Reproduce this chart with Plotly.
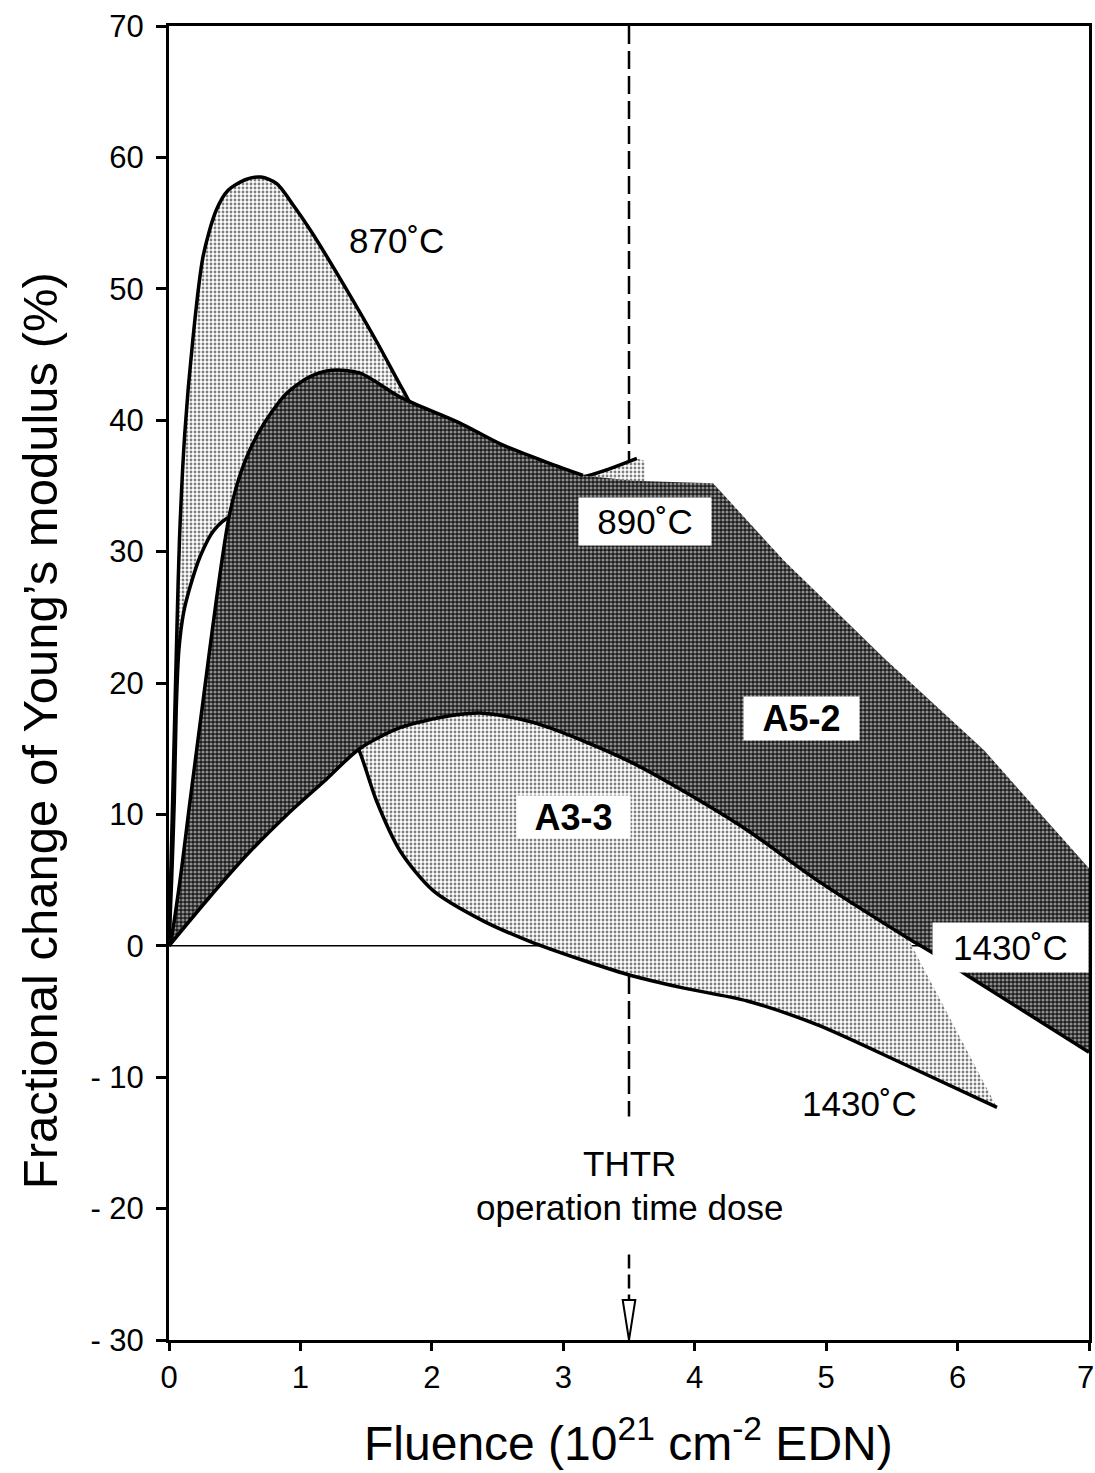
import plotly.graph_objects as go

# ---------------- data ----------------
x_range = [0, 7]
y_range = [-30, 70]
x_tickvals = [0, 1, 2, 3, 4, 5, 6, 7]
x_ticktext = ["0", "1", "2", "3", "4", "5", "6", "7"]
y_tickvals = [-30, -20, -10, 0, 10, 20, 30, 40, 50, 60, 70]
y_ticktext = ["- 30", "- 20", "- 10", "0", "10", "20", "30", "40", "50", "60", "70"]

thtr_dose = 3.5          # THTR operation time dose (fluence)

# A3-3 upper bound: 870 C
a33_hi_x = [0, 0.02, 0.04, 0.06, 0.08, 0.12, 0.18, 0.26, 0.36, 0.45, 0.58, 0.70, 0.82,
            0.95, 1.08, 1.33, 1.59, 1.78, 1.90, 2.10, 2.50, 2.90, 3.15, 3.35, 3.56]
a33_hi_y = [0, 8, 16, 24, 31, 39, 46, 52.5, 56.0, 57.5, 58.3, 58.5, 58.0,
            56.3, 54.4, 50.3, 45.8, 42.3, 40.3, 39.0, 37.0, 35.6, 35.7, 36.3, 37.1]
# A3-3 band right-hand boundary (stipple edge)
a33_edge_x = [3.62, 3.62, 4.50, 5.30, 5.62]
a33_edge_y = [36.9, 35.2, 20.0, 5.0, 0.6]
# A3-3 lower bound: 1430 C
a33_lo_x = [0, 0.02, 0.04, 0.055, 0.075, 0.11, 0.16, 0.24, 0.34, 0.46, 0.60, 0.80, 1.00,
            1.20, 1.45, 1.58, 1.76, 2.01, 2.39, 2.73, 3.15, 3.53, 3.91, 4.40, 4.93, 5.57, 6.30]
a33_lo_y = [0, 5, 11, 18, 22.5, 25.3, 27.3, 29.7, 31.6, 32.6, 32.3, 29.5, 25.5,
            20.5, 14.8, 11.0, 7.2, 4.2, 1.9, 0.4, -1.1, -2.3, -3.2, -4.2, -6.0, -8.9, -12.3]

# A5-2 upper bound: 890 C
a52_hi_x = [0, 0.01, 0.08, 0.16, 0.26, 0.36, 0.46, 0.56, 0.69, 0.89, 1.07, 1.24, 1.45,
            1.77, 2.21, 2.52, 2.90, 3.15]
a52_hi_y = [0, 0.2, 4.7, 11.0, 18.7, 26.3, 32.8, 36.4, 39.2, 42.0, 43.3, 43.8, 43.6,
            41.7, 39.8, 38.2, 36.7, 35.8]
# A5-2 band upper/right boundary (stipple edge)
a52_edge_x = [3.53, 4.14, 4.68, 5.44, 6.20, 7.00]
a52_edge_y = [35.4, 35.2, 29.3, 21.9, 14.9, 5.9]
# A5-2 lower bound: 1430 C
a52_lo_x = [0, 0.30, 0.60, 0.90, 1.20, 1.45, 1.76, 2.14, 2.39, 2.77, 3.15, 3.53, 3.91,
            4.40, 4.93, 5.62, 5.82, 6.08, 7.00]
a52_lo_y = [0, 3.6, 7.0, 10.0, 12.7, 15.0, 16.6, 17.5, 17.7, 17.0, 15.6, 13.9, 11.8,
            8.8, 5.0, 0.6, -0.6, -2.3, -8.1]

# ---------------- figure ----------------
FONT = "Liberation Sans, Arial, Helvetica, sans-serif"
fig = go.Figure()

light_x = a33_hi_x + a33_edge_x + a33_lo_x[::-1]
light_y = a33_hi_y + a33_edge_y + a33_lo_y[::-1]
dark_x = a52_hi_x + a52_edge_x + a52_lo_x[::-1]
dark_y = a52_hi_y + a52_edge_y + a52_lo_y[::-1]

line_style = dict(color="black", width=3.5, shape="spline", smoothing=0.8)
no_line = dict(width=0, color="rgba(0,0,0,0)")

fig.add_trace(go.Scatter(
    x=light_x, y=light_y, mode="lines", fill="toself", line=no_line,
    fillpattern=dict(shape=".", size=4, solidity=0.4, fgcolor="black", bgcolor="white"),
    hoverinfo="skip", showlegend=False))
fig.add_trace(go.Scatter(x=a33_hi_x, y=a33_hi_y, mode="lines", line=line_style,
                         hoverinfo="skip", showlegend=False))
fig.add_trace(go.Scatter(x=a33_lo_x, y=a33_lo_y, mode="lines", line=line_style,
                         hoverinfo="skip", showlegend=False))
fig.add_trace(go.Scatter(
    x=dark_x, y=dark_y, mode="lines", fill="toself", line=no_line,
    fillpattern=dict(shape=".", size=4, solidity=0.48, fgcolor="white", bgcolor="#1c1c1c"),
    hoverinfo="skip", showlegend=False))
fig.add_trace(go.Scatter(x=a52_hi_x, y=a52_hi_y, mode="lines", line=line_style,
                         hoverinfo="skip", showlegend=False))
fig.add_trace(go.Scatter(x=a52_lo_x, y=a52_lo_y, mode="lines", line=line_style,
                         hoverinfo="skip", showlegend=False))

# zero line and THTR dose marker (drawn beneath the bands)
fig.add_shape(type="line", xref="x", yref="y", x0=x_range[0], x1=x_range[1], y0=0, y1=0,
              line=dict(color="black", width=1.5), layer="below")
fig.add_shape(type="line", xref="x", yref="y", x0=thtr_dose, x1=thtr_dose,
              y0=y_range[1], y1=-13, line=dict(color="black", width=2.5, dash="18px,7px"),
              layer="below")
fig.add_shape(type="line", xref="x", yref="y", x0=thtr_dose, x1=thtr_dose,
              y0=-23.5, y1=-27, line=dict(color="black", width=2.5, dash="14px,6px"),
              layer="below")
fig.add_shape(type="path", xref="x", yref="y",
              path=f"M {thtr_dose-0.048},-26.95 L {thtr_dose+0.048},-26.95 L {thtr_dose},{y_range[0]} Z",
              line=dict(color="black", width=2), fillcolor="white", layer="above")

def label(text, x, y, size=35, bold=False, box=None):
    kw = {}
    if box:
        kw = dict(bgcolor="white", width=box[0], height=box[1], borderpad=2)
    fig.add_annotation(x=x, y=y, xref="x", yref="y", showarrow=False,
                       text=f"<b>{text}</b>" if bold else text,
                       font=dict(family=FONT, size=size, color="black"),
                       xanchor="center", yanchor="middle", **kw)

label("870˚C", 1.73, 53.7)
label("890˚C", 3.62, 32.3, box=(128, 43))
label("A5-2", 4.81, 17.3, size=36, bold=True, box=(111, 39))
label("A3-3", 3.08, 9.8, size=36, bold=True, box=(109, 38))
label("1430˚C", 6.40, -0.15, box=(151, 45))
label("1430˚C", 5.25, -12.0)
label("THTR", thtr_dose, -16.6, size=35)
label("operation time dose", thtr_dose, -19.95, size=35)

# the last x tick label sits at the window edge: draw it as an annotation nudged inward
fig.add_annotation(text=x_ticktext[-1], x=x_tickvals[-1], xref="x", y=-0.0282, yref="paper",
                   showarrow=False, xanchor="center", yanchor="middle", xshift=-4,
                   font=dict(family=FONT, size=31, color="black"))

# axis titles
fig.add_annotation(text="Fractional change of Young’s modulus (%)", textangle=-90,
                   xref="paper", yref="paper", x=-0.14, y=0.4635, showarrow=False,
                   xanchor="center", yanchor="middle",
                   font=dict(family=FONT, size=49, color="black"))
fig.add_annotation(text="Fluence (10<sup>21</sup> cm<sup>-2</sup> EDN)",
                   xref="paper", yref="paper", x=0.499, y=-0.076, showarrow=False,
                   xanchor="center", yanchor="middle",
                   font=dict(family=FONT, size=48, color="black"))

axis_common = dict(showgrid=False, zeroline=False, showline=True, linecolor="black",
                   linewidth=3, mirror=True, ticks="outside", tickcolor="black",
                   tickwidth=2.5, automargin=False,
                   tickfont=dict(family=FONT, size=31, color="black"))
fig.update_xaxes(range=x_range, tickvals=x_tickvals,
                 ticktext=x_ticktext[:-1] + [""], ticklen=8, **axis_common)
fig.update_yaxes(range=y_range, tickvals=y_tickvals, ticktext=y_ticktext, ticklen=10,
                 ticklabelstandoff=6, **axis_common)

fig.update_layout(width=1095, height=1473, margin=dict(l=169, r=6, t=26, b=133),
                  paper_bgcolor="white", plot_bgcolor="white", showlegend=False,
                  font=dict(family=FONT, color="black"))

# remove the default 8px page margin so the figure fills the window exactly
fig.write_html("out.html", config={"displayModeBar": False},
               post_script="document.body.style.margin='0';"
                           "document.body.style.overflow='hidden';")
